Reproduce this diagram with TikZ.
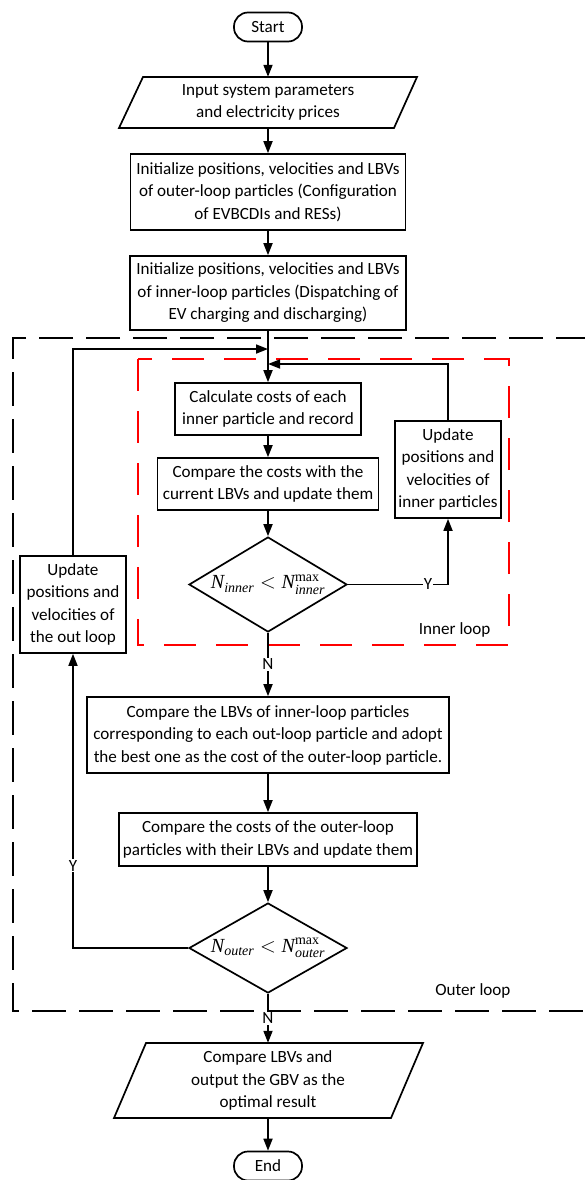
\documentclass[tikz,border=0pt]{standalone}
\usepackage{amsmath}
\usepackage{fontspec}
\setmainfont{Carlito}
\newfontfamily\tms{Liberation Serif}
\usetikzlibrary{arrows.meta,shapes.geometric}
\newcommand{\mN}{\text{\tms\itshape N}}
\newcommand{\mt}[1]{\text{\tms\itshape #1}}
\begin{document}
\begin{tikzpicture}[x=1pt,y=-1pt,
  every node/.style={font=\fontsize{17.1}{22.5}\selectfont},
  proc/.style={draw,line width=1.7pt,rectangle,inner sep=0pt,align=center},
  term/.style={draw,line width=1.7pt,rectangle,rounded corners=14pt,inner sep=0pt,minimum width=68pt,minimum height=29pt},
  ghost/.style={rectangle,inner sep=0pt,align=center},
  dec/.style={draw,line width=1.7pt,diamond,inner sep=0pt,minimum width=158pt},
  mathlab/.style={font=\fontsize{20}{22}\selectfont},
  conn/.style={line width=1.7pt,-{Triangle[length=12pt,width=9pt]}},
  lab/.style={fill=white,inner sep=1pt},
  outerbox/.style={line width=1.8pt,dash pattern=on 34pt off 13pt},
  innerbox/.style={line width=1.8pt,red,dash pattern=on 32pt off 20pt}]
\useasboundingbox (0,0) rectangle (584,1180);

% loop frames
\draw[outerbox] (590,338) -- (13,338) -- (13,1011) -- (590,1011);
\draw[innerbox] (138,359) rectangle (509,645);
\node[anchor=east] (innerlab) at (494,630) {Inner loop};
\node[anchor=east] (outerlab) at (514,991) {Outer loop};

% nodes
\node[term] (start) at (268,27) {Start};
\node[ghost,minimum width=275pt,minimum height=51pt] (input) at (268,102.5) {Input system parameters\\and electricity prices};
\draw[line width=1.7pt] (119,128) -- (394,128) -- (417,77) -- (143,77) -- cycle;
\node[proc,minimum width=275pt,minimum height=76pt] (init1) at (268,192) {Initialize positions, velocities and LBVs\\of outer-loop particles (Configuration\\of EVBCDIs and RESs)};
\node[proc,minimum width=276pt,minimum height=74pt] (init2) at (268,293) {Initialize positions, velocities and LBVs\\of inner-loop particles (Dispatching of\\EV charging and discharging)};
\node[proc,minimum width=186pt,minimum height=52pt] (calc) at (268,409) {Calculate costs of each\\inner particle and record};
\node[proc,minimum width=221pt,minimum height=52pt] (cmp) at (268,484) {Compare the costs with the\\current LBVs and update them};
\node[dec,minimum height=95pt,label={[mathlab]center:$\mN_{\mt{inner}} < \mN^{\text{\tms max}}_{\mt{inner}}$}] (d1) at (268,584.5) {};
\node[proc,minimum width=106pt,minimum height=97pt] (updin) at (448,469.5) {Update\\positions and\\velocities of\\inner particles};
\node[proc,minimum width=106pt,minimum height=97pt] (updout) at (73,604.5) {Update\\positions and\\velocities of\\the out loop};
\node[proc,minimum width=362pt,minimum height=76pt] (cmpL) at (268,735) {Compare the LBVs of inner-loop particles\\corresponding to each out-loop particle and adopt\\the best one as the cost of the outer-loop particle.};
\node[proc,minimum width=298pt,minimum height=53pt] (cmpC) at (268,839.5) {Compare the costs of the outer-loop\\particles with their LBVs and update them};
\node[dec,minimum height=90pt,label={[mathlab]center:$\mN_{\mt{outer}} < \mN^{\text{\tms max}}_{\mt{outer}}$}] (d2) at (268,948) {};
\node[ghost,minimum width=277pt,minimum height=75pt] (out) at (268,1080.5) {Compare LBVs and\\output the GBV as the\\optimal result};
\draw[line width=1.7pt] (114,1118) -- (391,1118) -- (423,1043) -- (146,1043) -- cycle;
\node[term] (end) at (268,1166) {End};

\coordinate (jo) at (268,349);
\coordinate (ji) at (268,364);

% connectors
\draw[conn] (start) -- (input);
\draw[conn] (input) -- (init1);
\draw[conn] (init1) -- (init2);
\draw[conn] (init2) -- (calc);
\draw[conn] (calc) -- (cmp);
\draw[conn] (cmp) -- (d1);
\draw[conn] (d1.east) -| node[lab,pos=0.4] {Y} (updin.south);
\draw[conn] (updin.north) |- (ji);
\draw[conn] (d1.south) -- node[lab,pos=0.5] {N} (cmpL.north);
\draw[conn] (cmpL) -- (cmpC);
\draw[conn] (cmpC) -- (d2);
\draw[conn] (d2.west) -| node[lab,pos=0.64] {Y} (updout.south);
\draw[conn] (updout.north) |- (jo);
\draw[conn] (d2.south) -- node[lab,pos=0.5] {N} (out.north);
\draw[conn] (out) -- (end);
\end{tikzpicture}
\end{document}
